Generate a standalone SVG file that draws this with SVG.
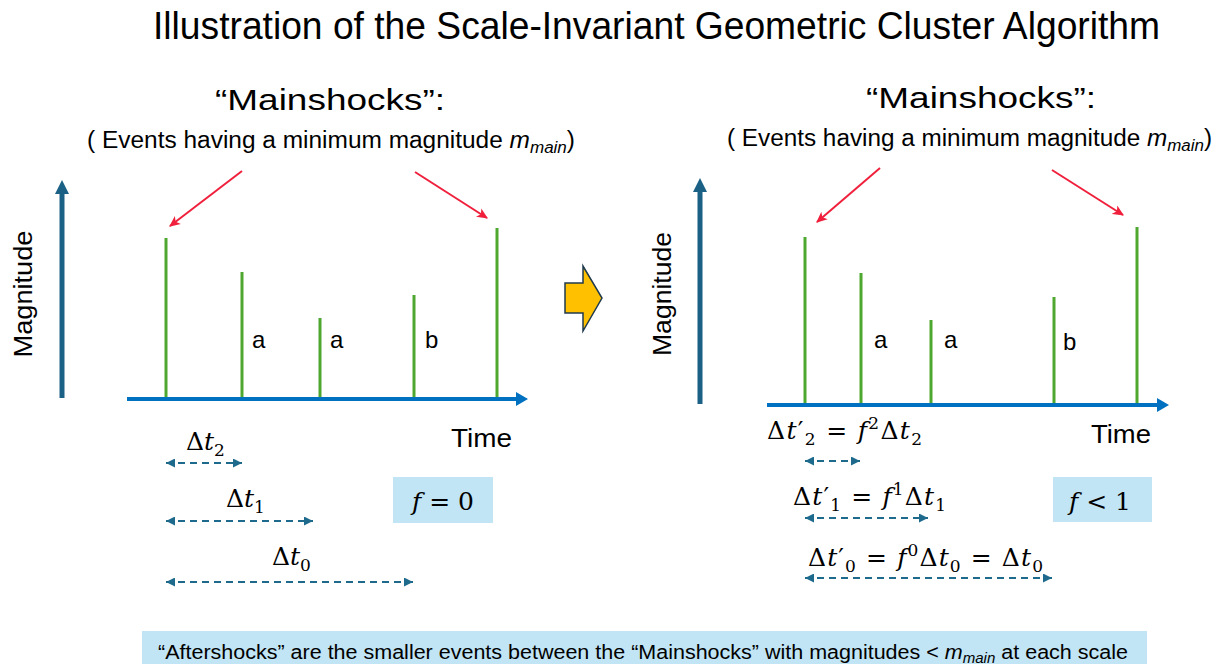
<svg xmlns="http://www.w3.org/2000/svg" width="1217" height="664" viewBox="0 0 1217 664">
  <style>
    .sans { font-family: "Liberation Sans", Arial, sans-serif; fill: #000; }
    .math { font-family: "DejaVu Serif", "Liberation Serif", serif; font-size: 25px; fill: #000; }
    .it { font-style: italic; }
    .bar { stroke: #4EA72E; stroke-width: 3; }
    .vaxis { stroke: #1B6185; stroke-width: 5; }
    .haxis { stroke: #0070C0; stroke-width: 4; }
    .red { stroke: #F0203C; stroke-width: 2; }
    .dash { stroke: #1D6A8C; stroke-width: 2; stroke-dasharray: 7 5; }
    .box { fill: #C1E5F5; }
  </style>
  <defs>
    <marker id="av" viewBox="0 0 14 14" refX="0" refY="7" markerWidth="14" markerHeight="14" markerUnits="userSpaceOnUse" orient="auto">
      <path d="M0,0 L14,7 L0,14 z" fill="#1B6185"/>
    </marker>
    <marker id="ah" viewBox="0 0 12 14" refX="0" refY="7" markerWidth="12" markerHeight="14" markerUnits="userSpaceOnUse" orient="auto">
      <path d="M0,0 L12,7 L0,14 z" fill="#0070C0"/>
    </marker>
    <marker id="ar" viewBox="0 0 10 10" refX="9" refY="5" markerWidth="11" markerHeight="11" markerUnits="userSpaceOnUse" orient="auto">
      <path d="M0,0.5 L10,5 L0,9.5 L2.5,5 z" fill="#F0203C"/>
    </marker>
    <marker id="ad" viewBox="0 0 10 10" refX="10" refY="5" markerWidth="9" markerHeight="9" markerUnits="userSpaceOnUse" orient="auto-start-reverse">
      <path d="M0,0 L10,5 L0,10 z" fill="#1D6A8C"/>
    </marker>
  </defs>

  <g id="title">
    <text class="sans" x="153" y="39" font-size="38" textLength="1007" lengthAdjust="spacingAndGlyphs">Illustration of the Scale-Invariant Geometric Cluster Algorithm</text>
  </g>

  <g id="left-heading">
    <text class="sans" x="215" y="110" font-size="30" textLength="230" lengthAdjust="spacingAndGlyphs">“Mainshocks”:</text>
    <text class="sans" x="87" y="148" font-size="23" textLength="488" lengthAdjust="spacingAndGlyphs">( Events having a minimum magnitude <tspan class="it">m</tspan><tspan class="it" font-size="16" dy="5">main</tspan><tspan dy="-5">)</tspan></text>
  </g>

  <g id="right-heading">
    <text class="sans" x="866" y="108" font-size="30" textLength="230" lengthAdjust="spacingAndGlyphs">“Mainshocks”:</text>
    <text class="sans" x="727" y="146" font-size="23" textLength="485" lengthAdjust="spacingAndGlyphs">( Events having a minimum magnitude <tspan class="it">m</tspan><tspan class="it" font-size="16" dy="5">main</tspan><tspan dy="-5">)</tspan></text>
  </g>

  <g id="left-chart">
    <text class="sans" font-size="25" text-anchor="middle" transform="translate(32,294) rotate(-90)" textLength="127" lengthAdjust="spacingAndGlyphs">Magnitude</text>
    <line class="bar" x1="166" y1="397" x2="166" y2="238"/>
    <line class="bar" x1="242" y1="397" x2="242" y2="272"/>
    <line class="bar" x1="320" y1="397" x2="320" y2="318"/>
    <line class="bar" x1="414" y1="397" x2="414" y2="295"/>
    <line class="bar" x1="497" y1="397" x2="497" y2="228"/>
    <text class="sans" x="252" y="348" font-size="24">a</text>
    <text class="sans" x="330" y="348" font-size="24">a</text>
    <text class="sans" x="425" y="348" font-size="24">b</text>
    <text class="sans" x="451" y="447" font-size="25" textLength="61" lengthAdjust="spacingAndGlyphs">Time</text>
  </g>

  <g id="right-chart">
    <text class="sans" font-size="25" text-anchor="middle" transform="translate(671,294) rotate(-90)" textLength="124" lengthAdjust="spacingAndGlyphs">Magnitude</text>
    <line class="bar" x1="805" y1="403" x2="805" y2="237"/>
    <line class="bar" x1="861" y1="403" x2="861" y2="273"/>
    <line class="bar" x1="931" y1="403" x2="931" y2="320"/>
    <line class="bar" x1="1054" y1="403" x2="1054" y2="297"/>
    <line class="bar" x1="1137" y1="403" x2="1137" y2="227"/>
    <text class="sans" x="874" y="348" font-size="24">a</text>
    <text class="sans" x="944" y="348" font-size="24">a</text>
    <text class="sans" x="1063" y="350" font-size="24">b</text>
    <text class="sans" x="1091" y="443" font-size="25" textLength="60" lengthAdjust="spacingAndGlyphs">Time</text>
  </g>

  <g id="left-scales">
    <text class="math" x="186" y="450">Δ<tspan class="it">t</tspan><tspan font-size="17" dy="6">2</tspan></text>
    <text class="math" x="226" y="507">Δ<tspan class="it">t</tspan><tspan font-size="17" dy="6">1</tspan></text>
    <text class="math" x="272" y="565">Δ<tspan class="it">t</tspan><tspan font-size="17" dy="6">0</tspan></text>
    <rect class="box" x="393" y="477" width="100" height="46"/>
    <text class="math" x="443" y="510" text-anchor="middle" font-size="26"><tspan class="it">f</tspan> = 0</text>
  </g>

  <g id="right-scales">
    <text class="math" x="767" y="439" textLength="155" lengthAdjust="spacing">Δ<tspan class="it">t</tspan>′<tspan font-size="17" dy="6">2</tspan><tspan dy="-6"> = </tspan><tspan class="it">f</tspan><tspan font-size="17" dy="-10">2</tspan><tspan dy="10">Δ</tspan><tspan class="it">t</tspan><tspan font-size="17" dy="6">2</tspan></text>
    <text class="math" x="793" y="505" textLength="153" lengthAdjust="spacing">Δ<tspan class="it">t</tspan>′<tspan font-size="17" dy="6">1</tspan><tspan dy="-6"> = </tspan><tspan class="it">f</tspan><tspan font-size="17" dy="-10">1</tspan><tspan dy="10">Δ</tspan><tspan class="it">t</tspan><tspan font-size="17" dy="6">1</tspan></text>
    <text class="math" x="808" y="566" textLength="235" lengthAdjust="spacing">Δ<tspan class="it">t</tspan>′<tspan font-size="17" dy="6">0</tspan><tspan dy="-6"> = </tspan><tspan class="it">f</tspan><tspan font-size="17" dy="-10">0</tspan><tspan dy="10">Δ</tspan><tspan class="it">t</tspan><tspan font-size="17" dy="6">0</tspan><tspan dy="-6"> = Δ</tspan><tspan class="it">t</tspan><tspan font-size="17" dy="6">0</tspan></text>
    <rect class="box" x="1053" y="477" width="99" height="45"/>
    <text class="math" x="1100" y="510" text-anchor="middle" font-size="26"><tspan class="it">f</tspan> &lt; 1</text>
  </g>

  <g id="transition-arrow">
    <path d="M565,283 L583,283 L583,266 L602,298 L583,331 L583,313 L565,313 Z" fill="#FFC000" stroke="#1F3A4D" stroke-width="1.5" stroke-linejoin="miter"/>
  </g>

  <g id="connectors">
    <line class="vaxis" x1="62" y1="398" x2="62" y2="194" marker-end="url(#av)"/>
    <line class="haxis" x1="127" y1="399" x2="516" y2="399" marker-end="url(#ah)"/>
    <line class="vaxis" x1="700" y1="404" x2="700" y2="192" marker-end="url(#av)"/>
    <line class="haxis" x1="767" y1="405" x2="1157" y2="405" marker-end="url(#ah)"/>
    <line class="red" x1="242" y1="171" x2="170" y2="226" marker-end="url(#ar)"/>
    <line class="red" x1="415" y1="172" x2="487" y2="218" marker-end="url(#ar)"/>
    <line class="red" x1="880" y1="168" x2="817" y2="222" marker-end="url(#ar)"/>
    <line class="red" x1="1052" y1="170" x2="1123" y2="215" marker-end="url(#ar)"/>
    <line class="dash" x1="166" y1="463" x2="242" y2="463" marker-start="url(#ad)" marker-end="url(#ad)"/>
    <line class="dash" x1="166" y1="521" x2="313" y2="521" marker-start="url(#ad)" marker-end="url(#ad)"/>
    <line class="dash" x1="166" y1="582" x2="413" y2="582" marker-start="url(#ad)" marker-end="url(#ad)"/>
    <line class="dash" x1="805" y1="461" x2="860" y2="461" marker-start="url(#ad)" marker-end="url(#ad)"/>
    <line class="dash" x1="805" y1="518" x2="928" y2="518" marker-start="url(#ad)" marker-end="url(#ad)"/>
    <line class="dash" x1="805" y1="578" x2="1052" y2="578" marker-start="url(#ad)" marker-end="url(#ad)"/>
  </g>

  <g id="footer">
    <rect class="box" x="142" y="631" width="1005" height="40"/>
    <text class="sans" x="158" y="659" font-size="20" textLength="970" lengthAdjust="spacingAndGlyphs">“Aftershocks” are the smaller events between the “Mainshocks” with magnitudes &lt; <tspan class="it">m</tspan><tspan class="it" font-size="14" dy="4">main</tspan><tspan dy="-4"> at each scale</tspan></text>
  </g>
</svg>
